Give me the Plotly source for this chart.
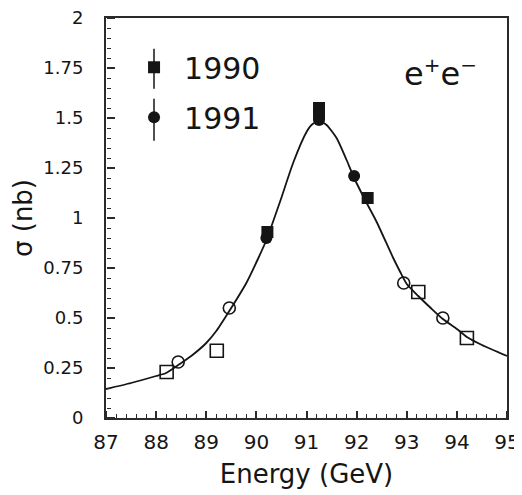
import plotly.graph_objects as go

# Fitted line-shape
curve_E = [87.0, 87.5, 88.0, 88.2, 88.44, 88.7, 89.0, 89.2, 89.46, 89.8, 90.04, 90.2,
           90.47, 90.74, 91.0, 91.1, 91.25, 91.4, 91.6, 91.8, 91.95, 92.2, 92.4,
           92.73, 92.87, 93.0, 93.23, 93.5, 93.72, 94.0, 94.2, 94.5, 95.0]
curve_sigma = [0.145, 0.175, 0.21, 0.225, 0.265, 0.31, 0.375, 0.435, 0.535, 0.675, 0.80, 0.89,
               1.08, 1.28, 1.43, 1.465, 1.485, 1.465, 1.40, 1.29, 1.20, 1.075, 0.98,
               0.80, 0.73, 0.67, 0.61, 0.545, 0.495, 0.445, 0.405, 0.365, 0.31]

# 1990 data (squares)
e90_filled = [90.22, 91.25, 91.25, 92.22]
s90_filled = [0.93, 1.55, 1.52, 1.10]
err90_filled = [0.03, 0.02, 0.02, 0.025]
e90_open = [88.21, 89.21, 93.23, 94.20]
s90_open = [0.23, 0.336, 0.63, 0.40]

# 1991 data (circles)
e91_filled = [90.20, 91.25, 91.95]
s91_filled = [0.90, 1.49, 1.21]
err91_filled = [0.03, 0.02, 0.025]
e91_open = [88.44, 89.46, 92.94, 93.72]
s91_open = [0.28, 0.55, 0.675, 0.50]

x_range = [87, 95]
y_range = [0, 2]
x_ticks = [87, 88, 89, 90, 91, 92, 93, 94, 95]
y_ticks = [0, 0.25, 0.5, 0.75, 1, 1.25, 1.5, 1.75, 2]
y_tick_text = ["0", "0.25", "0.5", "0.75", "1", "1.25", "1.5", "1.75", "2"]

INK = "#151515"
AX = "#2a2a2a"
FONT = "DejaVu Sans"

fig = go.Figure()

fig.add_trace(go.Scatter(x=curve_E, y=curve_sigma, mode="lines",
                         line=dict(color=INK, width=1.8, shape="spline", smoothing=0.6),
                         showlegend=False, hoverinfo="skip"))

fig.add_trace(go.Scatter(x=e90_open, y=s90_open, mode="markers",
                         marker=dict(symbol="square-open", size=13, color=INK,
                                     line=dict(width=1.6, color=INK)),
                         showlegend=False))
fig.add_trace(go.Scatter(x=e91_open, y=s91_open, mode="markers",
                         marker=dict(symbol="circle-open", size=12, color=INK,
                                     line=dict(width=1.6, color=INK)),
                         showlegend=False))

fig.add_trace(go.Scatter(x=e90_filled, y=s90_filled, mode="markers", name="1990",
                         legendgroup="a",
                         marker=dict(symbol="square", size=12, color=INK),
                         error_y=dict(type="data", array=err90_filled, color=INK,
                                      thickness=1.5, width=0)))
fig.add_trace(go.Scatter(x=e91_filled, y=s91_filled, mode="markers", name="1991",
                         legendgroup="b",
                         marker=dict(symbol="circle", size=12, color=INK),
                         error_y=dict(type="data", array=err91_filled, color=INK,
                                      thickness=1.5, width=0)))

# invisible companion so the overlay tick axes are laid out
fig.add_trace(go.Scatter(x=curve_E, y=curve_sigma, xaxis="x2", yaxis="y2", mode="lines",
                         line=dict(width=0), opacity=0, showlegend=False, hoverinfo="skip"))

# main axes: frame, labels, titles (ticks transparent, only used as label spacing)
fig.update_layout(
    xaxis=dict(range=x_range, tickmode="array", tickvals=x_ticks,
               ticks="outside", ticklen=5, tickcolor="rgba(0,0,0,0)",
               showline=True, linecolor=AX, linewidth=2, mirror=True,
               showgrid=False, zeroline=False, automargin=False,
               ticklabeloverflow="allow",
               tickfont=dict(family=FONT, size=20, color=INK),
               title=dict(text="Energy (GeV)", font=dict(family=FONT, size=26, color=INK),
                          standoff=12)),
    yaxis=dict(range=y_range, tickmode="array", tickvals=y_ticks, ticktext=y_tick_text,
               ticks="outside", ticklen=17, tickcolor="rgba(0,0,0,0)",
               showline=True, linecolor=AX, linewidth=2, mirror=True,
               showgrid=False, zeroline=False, automargin=False,
               ticklabeloverflow="allow",
               tickfont=dict(family=FONT, size=18, color=INK),
               title=dict(text="σ (nb)", font=dict(family=FONT, size=26, color=INK),
                          standoff=6)),
    # overlay axes that carry the inward-pointing tick marks
    xaxis2=dict(range=x_range, overlaying="x", side="top", anchor="free", position=0,
                tickmode="array", tickvals=x_ticks, ticks="outside", ticklen=7,
                tickwidth=1.5, tickcolor=AX, showticklabels=False, showline=False,
                showgrid=False, zeroline=False,
                minor=dict(dtick=0.2, ticks="outside", ticklen=4, tickwidth=1, tickcolor=AX)),
    yaxis2=dict(range=y_range, overlaying="y", side="right", anchor="free", position=0,
                tickmode="array", tickvals=y_ticks, ticks="outside", ticklen=8,
                tickwidth=1.5, tickcolor=AX, showticklabels=False, showline=False,
                showgrid=False, zeroline=False,
                minor=dict(dtick=0.05, ticks="outside", ticklen=4, tickwidth=1, tickcolor=AX)),
)

fig.add_annotation(xref="paper", yref="paper", x=0.835, y=0.862, xanchor="center", yanchor="middle",
                   text="e<sup><span style='font-size:20px'>+</span></sup>e<sup><span style='font-size:20px'>−</span></sup>",
                   showarrow=False, font=dict(family=FONT, size=32, color=INK))

# error-bar strokes on the legend symbols
for y0, y1 in [(0.823, 0.923), (0.693, 0.798)]:
    fig.add_shape(type="line", xref="paper", yref="paper", x0=0.1197, x1=0.1197, y0=y0, y1=y1,
                  line=dict(color=INK, width=1.5))

# page body adds an 8px offset, so the figure is 8px smaller and margins shifted
fig.update_layout(
    width=514, height=486,
    margin=dict(l=98, r=15, t=10, b=76),
    paper_bgcolor="white", plot_bgcolor="white",
    legend=dict(x=0.045, y=0.942, xanchor="left", yanchor="top",
                font=dict(family=FONT, size=30, color=INK),
                bgcolor="rgba(0,0,0,0)", itemwidth=50, tracegroupgap=8),
)

fig.write_html("out.html")
